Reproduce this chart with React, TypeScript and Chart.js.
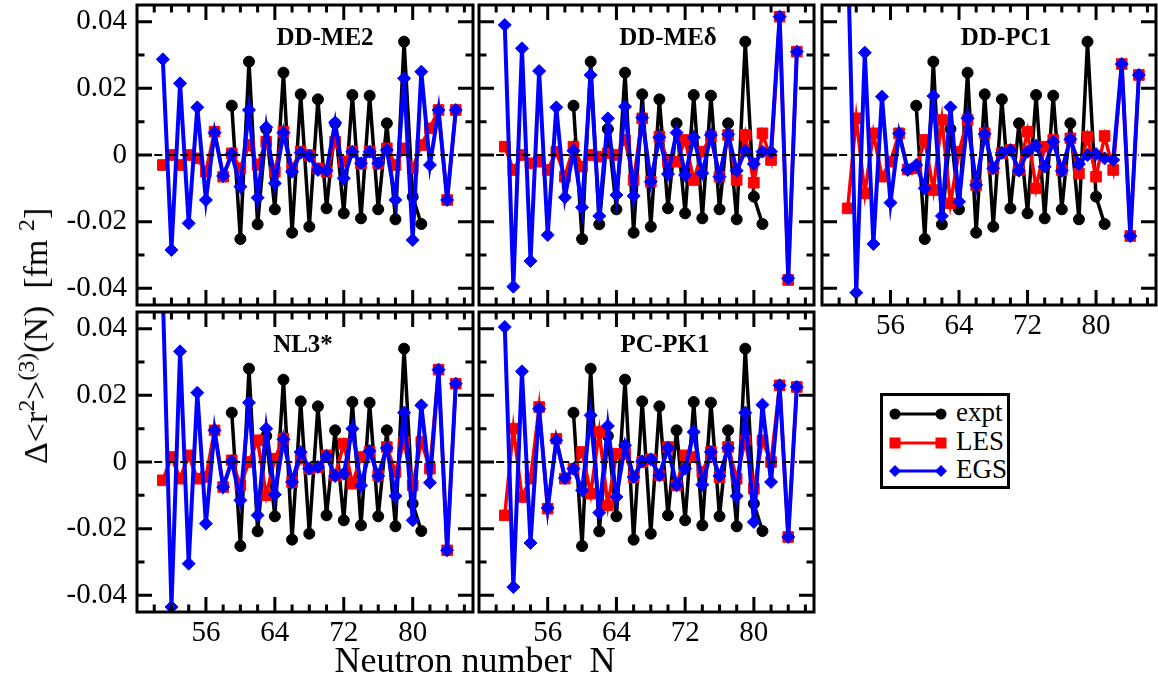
import React, { useEffect, useRef } from "react";
import { Chart, registerables } from "chart.js";
Chart.register(...registerables);

// ---------- data ----------
const N_CALC = [51, 52, 53, 54, 55, 56, 57, 58, 59, 60, 61, 62, 63, 64, 65, 66, 67, 68, 69, 70, 71, 72, 73, 74, 75, 76, 77, 78, 79, 80, 81, 82, 83, 84, 85];
const N_EXPT = [59, 60, 61, 62, 63, 64, 65, 66, 67, 68, 69, 70, 71, 72, 73, 74, 75, 76, 77, 78, 79, 80, 81];
const EXPT = [0.0148, -0.0252, 0.028, -0.0208, 0.0078, -0.0163, 0.0247, -0.0233, 0.0182, -0.0215, 0.0167, -0.016, 0.0095, -0.0175, 0.018, -0.019, 0.0178, -0.0163, 0.0095, -0.0193, 0.034, -0.0125, -0.0207];

const ME2_LES = [-0.003, 0.0, -0.003, 0.0, -0.001, -0.005, 0.007, -0.0065, 0.0005, -0.004, 0.003, -0.003, 0.004, -0.005, 0.007, -0.004, 0.001, 0.0, -0.004, -0.005, 0.004, -0.002, 0.001, -0.0025, 0.001, -0.0025, 0.002, -0.003, 0.002, -0.004, 0.003, 0.008, 0.0135, -0.0135, 0.0135];
const ME2_EGS = [0.0287, -0.0285, 0.0215, -0.0205, 0.0143, -0.0135, 0.0067, -0.0063, 0.0003, -0.0095, 0.0135, -0.0128, 0.0083, -0.0085, 0.0067, -0.005, 0.0007, -0.0003, -0.0045, -0.0047, 0.0097, -0.007, 0.001, -0.0025, 0.001, -0.0025, 0.0015, -0.0135, 0.023, -0.0255, 0.025, -0.003, 0.0135, -0.0135, 0.0135];

const MED_LES = [0.0025, -0.0045, 0.0, -0.0025, -0.002, -0.0045, 0.001, -0.0065, 0.0025, -0.0035, 0.0, -0.0005, 0.0005, 0.0, 0.0045, -0.0075, 0.011, -0.008, 0.0055, -0.002, -0.002, 0.0045, -0.0075, 0.001, 0.0055, -0.0065, 0.006, -0.0075, 0.006, -0.0083, 0.0065, -0.0015, 0.0415, -0.0375, 0.031];
const MED_EGS = [0.039, -0.0395, 0.032, -0.0318, 0.0252, -0.024, 0.0143, -0.0127, 0.0013, -0.0157, 0.024, -0.0183, 0.011, -0.012, 0.0145, -0.0123, 0.0112, -0.008, 0.0053, -0.0057, 0.0067, -0.006, 0.0053, -0.0055, 0.006, -0.0065, 0.0062, -0.0047, 0.0013, -0.0027, 0.001, 0.001, 0.0415, -0.037, 0.031];

const PC1_LES = [-0.016, 0.011, -0.0115, 0.0065, -0.0065, -0.002, 0.0065, -0.0043, -0.004, 0.0045, -0.0105, 0.0105, -0.0145, 0.001, 0.0105, -0.009, 0.0065, -0.004, 0.0005, 0.0015, -0.0045, 0.007, -0.01, 0.0025, 0.0045, -0.0045, 0.005, -0.0055, 0.0055, -0.0065, 0.0057, -0.0045, 0.0273, -0.0243, 0.024];
const PC1_EGS = [0.062, -0.0413, 0.0307, -0.0267, 0.0175, -0.0143, 0.0065, -0.0045, -0.003, -0.01, 0.0177, -0.0183, 0.0143, -0.014, 0.011, -0.009, 0.0063, -0.004, 0.0007, 0.0015, -0.0047, 0.001, 0.0028, -0.0035, 0.004, -0.0047, 0.0047, -0.0027, 0.0, 0.0003, -0.001, -0.0015, 0.0273, -0.0243, 0.024];

const NL3_LES = [-0.0055, 0.0015, -0.005, 0.002, -0.005, -0.0045, 0.0095, -0.0075, 0.0005, -0.007, 0.0, 0.0065, -0.01, 0.001, 0.007, -0.006, 0.001, -0.002, -0.0015, 0.002, -0.004, 0.0055, -0.0065, 0.0015, 0.003, -0.004, 0.0045, -0.003, 0.006, -0.007, 0.006, -0.002, 0.0277, -0.0265, 0.0235];
const NL3_EGS = [0.05, -0.0435, 0.0332, -0.0305, 0.0208, -0.0185, 0.0095, -0.0075, 0.0002, -0.0115, 0.0178, -0.016, 0.01, -0.0098, 0.0068, -0.006, 0.003, -0.002, -0.0015, 0.0018, -0.0042, -0.0035, 0.01, -0.007, 0.0033, -0.0042, 0.0042, -0.0102, 0.0148, -0.0175, 0.017, -0.0062, 0.0277, -0.0265, 0.0235];

const PK1_LES = [-0.016, 0.01, -0.0105, -0.005, 0.0165, -0.014, 0.007, -0.005, -0.002, 0.003, -0.0095, 0.009, -0.013, 0.0025, 0.0025, -0.0045, 0.0, 0.0008, -0.004, 0.0045, -0.007, 0.002, 0.0015, -0.003, 0.003, -0.0045, 0.0045, -0.005, 0.0065, -0.008, 0.0065, 0.0, 0.023, -0.0225, 0.0225];
const PK1_EGS = [0.0405, -0.0375, 0.0272, -0.0243, 0.016, -0.0138, 0.0065, -0.0048, -0.002, -0.0085, 0.014, -0.0152, 0.0108, -0.0105, 0.005, -0.0045, 0.0002, 0.0008, -0.004, 0.0042, -0.007, -0.002, 0.009, -0.0068, 0.003, -0.0042, 0.0042, -0.0102, 0.0148, -0.018, 0.0172, -0.006, 0.023, -0.0225, 0.0225];

const Y_TICKS = [-0.04, -0.02, 0, 0.02, 0.04];
const Y_TICK_LABELS = ["-0.04", "-0.02", "0", "0.02", "0.04"];
const Y_MINOR = [-0.03, -0.01, 0.01, 0.03];
const X_TICKS = [56, 64, 72, 80];
const X_TICK_LABELS = ["56", "64", "72", "80"];
const X_MINOR = [50, 52, 54, 58, 60, 62, 66, 68, 70, 74, 76, 78, 82, 84, 86];
const X_MIN = 48, X_MAX = 87, Y_MIN = -0.045, Y_MAX = 0.045;
const ZERO_FROM = 50, ZERO_TO = 85;

const SERIF = '"Liberation Serif", "Times New Roman", serif';

type Panel = {
  title: string; les: number[]; egs: number[];
  x1: number; y1: number; x2: number; y2: number;
  showY: boolean; showX: boolean; titleX: number;
};

const PANELS: Panel[] = [
  { title: "DD-ME2", les: ME2_LES, egs: ME2_EGS, x1: 137, y1: 5, x2: 473, y2: 305, showY: true, showX: false, titleX: 325 },
  { title: "DD-MEδ", les: MED_LES, egs: MED_EGS, x1: 479, y1: 5, x2: 814, y2: 305, showY: false, showX: false, titleX: 668 },
  { title: "DD-PC1", les: PC1_LES, egs: PC1_EGS, x1: 822, y1: 5, x2: 1156, y2: 305, showY: false, showX: true, titleX: 1006 },
  { title: "NL3*", les: NL3_LES, egs: NL3_EGS, x1: 137, y1: 312, x2: 473, y2: 612, showY: true, showX: true, titleX: 303 },
  { title: "PC-PK1", les: PK1_LES, egs: PK1_EGS, x1: 479, y1: 312, x2: 814, y2: 612, showY: false, showX: true, titleX: 665 },
];

const PAD = 30;
const YW = 137;
const XH = 50;

function PanelChart({ p }: { p: Panel }) {
  const ref = useRef<HTMLCanvasElement | null>(null);
  const left = p.showY ? p.x1 - YW : p.x1 - PAD;
  const top = p.y1 - PAD;
  const width = (p.x2 - p.x1) + (p.showY ? YW : PAD) + PAD;
  const height = (p.y2 - p.y1) + PAD + (p.showX ? XH : PAD);

  useEffect(() => {
    if (!ref.current) return;
    const framePlugin = {
      id: "frame",
      afterDatasetsDraw(chart: any) {
        const { ctx } = chart;
        const xs = chart.scales.x, ys = chart.scales.y;
        const y0 = ys.getPixelForValue(0);
        ctx.save();
        ctx.strokeStyle = "#000";
        ctx.lineWidth = 2;
        ctx.setLineDash([8, 5]);
        ctx.beginPath();
        ctx.moveTo(xs.getPixelForValue(ZERO_FROM), y0);
        ctx.lineTo(xs.getPixelForValue(ZERO_TO), y0);
        ctx.stroke();
        ctx.restore();
      },
      afterDraw(chart: any) {
        const { ctx, chartArea: a } = chart;
        const xs = chart.scales.x, ys = chart.scales.y;
        ctx.save();
        ctx.strokeStyle = "#000";
        ctx.lineWidth = 3;
        ctx.lineCap = "butt";
        ctx.beginPath();
        const tick = (v: number, len: number, horiz: boolean) => {
          if (horiz) {
            const x = xs.getPixelForValue(v);
            ctx.moveTo(x, a.bottom); ctx.lineTo(x, a.bottom - len);
            ctx.moveTo(x, a.top); ctx.lineTo(x, a.top + len);
          } else {
            const y = ys.getPixelForValue(v);
            ctx.moveTo(a.left, y); ctx.lineTo(a.left + len, y);
            ctx.moveTo(a.right, y); ctx.lineTo(a.right - len, y);
          }
        };
        X_TICKS.forEach((v) => tick(v, 15, true));
        X_MINOR.forEach((v) => tick(v, 7.5, true));
        Y_TICKS.forEach((v) => tick(v, 15, false));
        Y_MINOR.forEach((v) => tick(v, 7.5, false));
        ctx.stroke();
        ctx.strokeRect(a.left, a.top, a.right - a.left, a.bottom - a.top);
        ctx.fillStyle = "#000";
        ctx.font = "bold 25px " + SERIF;
        ctx.textAlign = "center";
        ctx.textBaseline = "middle";
        ctx.fillText(p.title, p.titleX - left, a.top + 34);
        ctx.restore();
      },
    };

    const chart = new Chart(ref.current, {
      type: "line",
      data: {
        datasets: [
          {
            label: "EGS",
            data: N_CALC.map((n, i) => ({ x: n, y: p.egs[i] })),
            borderColor: "#0000ff",
            backgroundColor: "#0000ff",
            borderWidth: 4,
            pointStyle: "rectRot",
            pointRadius: 6.5,
            pointBorderWidth: 1,
            order: 1,
          },
          {
            label: "LES",
            data: N_CALC.map((n, i) => ({ x: n, y: p.les[i] })),
            borderColor: "#ff0000",
            backgroundColor: "#ff0000",
            borderWidth: 3.5,
            pointStyle: "rect",
            pointRadius: 7.5,
            pointBorderWidth: 1,
            order: 2,
          },
          {
            label: "expt",
            data: N_EXPT.map((n, i) => ({ x: n, y: EXPT[i] })),
            borderColor: "#000000",
            backgroundColor: "#000000",
            borderWidth: 3.5,
            pointStyle: "circle",
            pointRadius: 5.5,
            pointBorderWidth: 1,
            order: 3,
          },
        ],
      },
      options: {
        animation: false,
        responsive: false,
        maintainAspectRatio: false,
        devicePixelRatio: 1,
        layout: {
          padding: { left: p.showY ? 0 : PAD, top: PAD, right: PAD, bottom: p.showX ? 0 : PAD },
        },
        plugins: { legend: { display: false }, tooltip: { enabled: false }, title: { display: false } },
        elements: { line: { tension: 0 } },
        scales: {
          x: {
            type: "linear",
            min: X_MIN,
            max: X_MAX,
            display: p.showX,
            grid: { display: false, drawTicks: false },
            border: { display: false },
            afterBuildTicks: (s: any) => { s.ticks = X_TICKS.map((v) => ({ value: v })); },
            afterFit: (s: any) => { s.height = p.showX ? XH : 0; },
            ticks: {
              autoSkip: false,
              maxRotation: 0,
              padding: 4,
              color: "#000",
              font: { family: SERIF, size: 29 },
              callback: (_v: any, i: number) => X_TICK_LABELS[i],
            },
          },
          y: {
            type: "linear",
            min: Y_MIN,
            max: Y_MAX,
            display: p.showY,
            grid: { display: false, drawTicks: false },
            border: { display: false },
            afterBuildTicks: (s: any) => { s.ticks = Y_TICKS.map((v) => ({ value: v })); },
            afterFit: (s: any) => { s.width = p.showY ? YW : 0; },
            ticks: {
              autoSkip: false,
              padding: 10,
              color: "#000",
              font: { family: SERIF, size: 29 },
              callback: (_v: any, i: number) => Y_TICK_LABELS[i],
            },
          },
        },
      },
      plugins: [framePlugin],
    } as any);
    return () => chart.destroy();
  }, []);

  return (
    <canvas
      ref={ref}
      width={width}
      height={height}
      style={{ position: "absolute", left, top, width, height }}
    />
  );
}

function Legend() {
  const row = (y: number, label: string, color: string, shape: string) => (
    <div key={label} style={{ position: "absolute", left: 0, top: y, width: 130, height: 28 }}>
      <svg width={60} height={28} style={{ position: "absolute", left: 6, top: 0 }}>
        <line x1={6} y1={14} x2={52} y2={14} stroke={color} strokeWidth={3} />
        {shape === "circle" && (<>
          <circle cx={6} cy={14} r={5.5} fill={color} />
          <circle cx={52} cy={14} r={5.5} fill={color} />
        </>)}
        {shape === "rect" && (<>
          <rect x={0.5} y={8.5} width={11} height={11} fill={color} />
          <rect x={46.5} y={8.5} width={11} height={11} fill={color} />
        </>)}
        {shape === "diamond" && (<>
          <polygon points="0,14 6,8 12,14 6,20" fill={color} />
          <polygon points="46,14 52,8 58,14 52,20" fill={color} />
        </>)}
      </svg>
      <span style={{ position: "absolute", left: 73, top: 14, transform: "translateY(-55%)", font: "27px " + SERIF, lineHeight: "27px", color: "#000" }}>{label}</span>
    </div>
  );
  return (
    <div style={{ position: "absolute", left: 880, top: 393, width: 124, height: 90, border: "3px solid #000", background: "#fff" }}>
      {row(4, "expt", "#000", "circle")}
      {row(33, "LES", "#ff0000", "rect")}
      {row(61, "EGS", "#0000ff", "diamond")}
    </div>
  );
}

export default function App() {
  const supStyle: React.CSSProperties = { fontSize: "0.7em", verticalAlign: "0.55em", lineHeight: 0 };
  return (
    <div style={{ position: "fixed", left: 0, top: 0, width: 1158, height: 682, background: "#fff", overflow: "hidden" }}>
      {PANELS.map((p) => <PanelChart key={p.title} p={p} />)}
      <Legend />
      <div style={{ position: "absolute", left: 475, top: 660, transform: "translate(-50%, -50%)", whiteSpace: "nowrap", font: "36px " + SERIF, color: "#000", lineHeight: "38px" }}>
        Neutron number{"\u00a0\u00a0"}N
      </div>
      <div style={{ position: "absolute", left: 36, top: 336, transform: "translate(-50%, -50%) rotate(-90deg)", whiteSpace: "nowrap", font: "34px " + SERIF, color: "#000", lineHeight: "36px" }}>
        Δ&lt;r<span style={supStyle}>2</span>&gt;<span style={supStyle}>(3)</span>(N){"\u00a0\u00a0"}[fm{"\u00a0"}<span style={supStyle}>2</span>]
      </div>
    </div>
  );
}
